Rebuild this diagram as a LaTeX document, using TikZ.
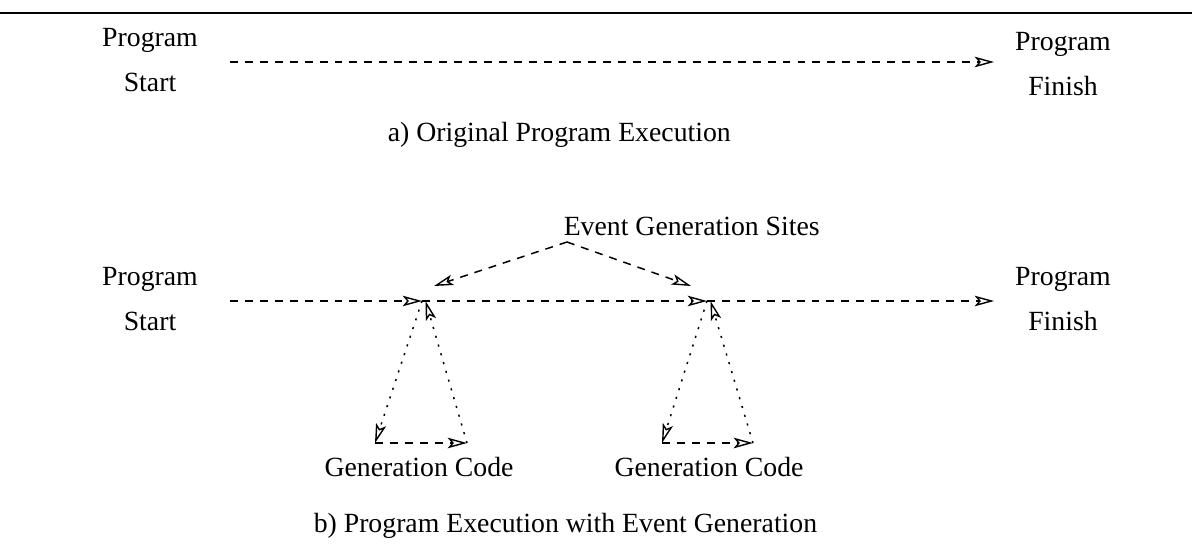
\documentclass[tikz,border=0pt]{standalone}
\usepackage{fontspec}
\setmainfont{Liberation Serif}
\usetikzlibrary{positioning}
\usetikzlibrary{arrows.meta}
\tikzset{flowtip/.style = {-{Stealth[open,length=11pt,width=6pt,inset=2.5pt,line width=0.8pt]}}}
\tikzset{flow/.style = {flowtip, dash pattern=on 4.5pt off 4pt}}
\tikzset{call/.style = {flowtip, dash pattern=on 1.2pt off 4pt}}
\tikzset{lbl/.style = {font=\fontsize{15.8}{26}\selectfont, align=center, inner sep=0}}
\tikzset{
  every picture/.style={
    every path/.style={line width=0.85pt},
  }
}

\begin{document}
\begin{tikzpicture}[x=0.02cm, y=-0.02cm]
      \useasboundingbox (0,0) rectangle (1192,551);
      \draw[line width=1.2pt] (0,13) -- (1192,13);
      % a) original run
      \node[lbl] (start1) at (150,60) {Program\\Start};
      \node[lbl] (finish1) at (1063,64) {Program\\Finish};
      \coordinate (from1) at (230,62);
      \coordinate (to1) at (994,62);
      \draw[flow] (from1) -- (to1);
      \node[lbl, anchor=base west] (capa) at (387,141) {a) Original Program Execution};
      % b) run with event generation
      \node[lbl] (start2) at (150,299) {Program\\Start};
      \node[lbl] (finish2) at (1063,299) {Program\\Finish};
      \coordinate (from2) at (230,301);
      \coordinate (site1) at (422,301);
      \coordinate (site2) at (707,301);
      \coordinate (to2) at (994,301);
      \draw[flow] (from2) -- (site1);
      \draw[flow] (site1) -- (site2);
      \draw[flow] (site2) -- (to2);
      \node[lbl, anchor=base west] (sites) at (563,235) {Event Generation Sites};
      \coordinate (apex) at (567,242);
      \draw[flow] (apex) -- (434,286);
      \draw[flow] (apex) -- (691,286);
      \coordinate (gl1) at (375,443);
      \coordinate (gr1) at (467,443);
      \coordinate (gl2) at (662,443);
      \coordinate (gr2) at (753,443);
      \draw[call] (site1) -- (gl1);
      \draw[flow] (gl1) -- (gr1);
      \draw[call] (gr1) -- ([xshift=2]site1);
      \draw[call] (site2) -- (gl2);
      \draw[flow] (gl2) -- (gr2);
      \draw[call] (gr2) -- ([xshift=2]site2);
      \node[lbl, anchor=base] (code1) at (419,476) {Generation Code};
      \node[lbl, anchor=base] (code2) at (709,476) {Generation Code};
      \node[lbl, anchor=base west] (capb) at (313,532) {b) Program Execution with Event Generation};
    \end{tikzpicture}
\end{document}
